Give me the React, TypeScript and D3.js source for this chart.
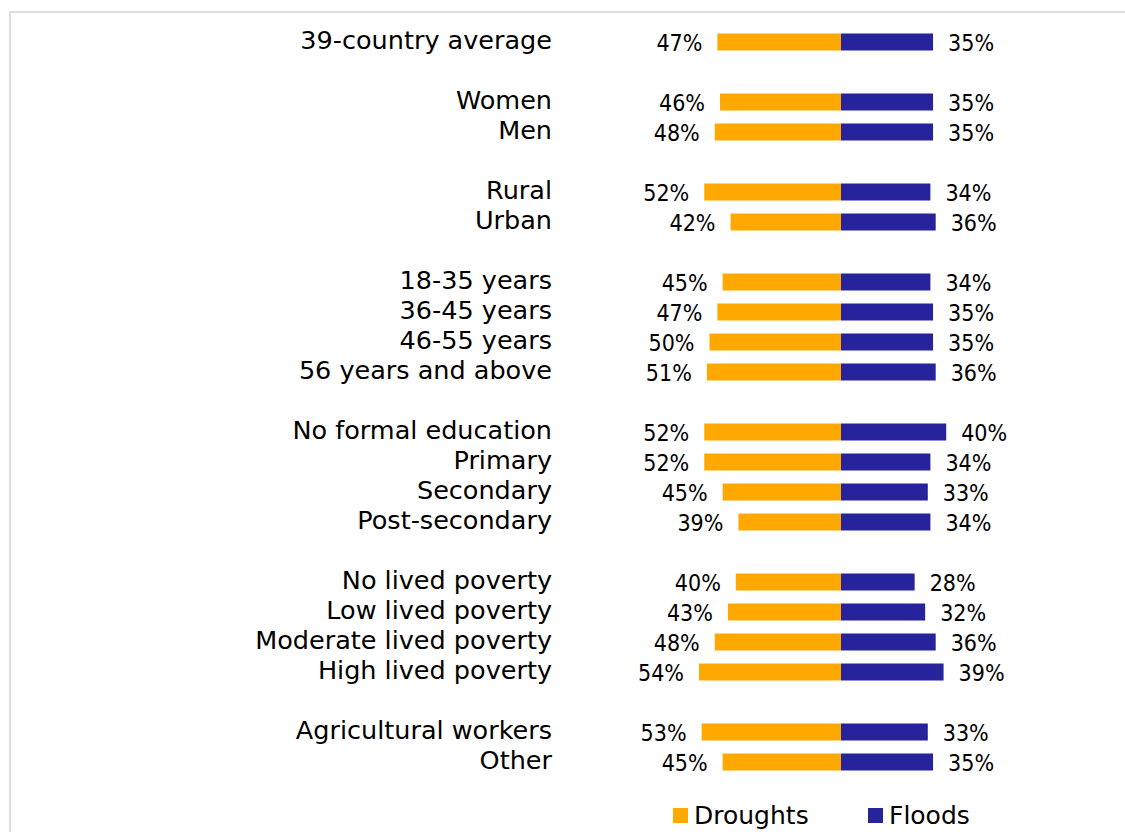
import * as d3 from 'd3'

const categories = [
  '39-country average',
  'Women', 'Men',
  'Rural', 'Urban',
  '18-35 years', '36-45 years', '46-55 years', '56 years and above',
  'No formal education', 'Primary', 'Secondary', 'Post-secondary',
  'No lived poverty', 'Low lived poverty', 'Moderate lived poverty', 'High lived poverty',
  'Agricultural workers', 'Other'
]
// which block each row belongs to (blocks are separated by an empty row)
const groups = [0, 1, 1, 2, 2, 3, 3, 3, 3, 4, 4, 4, 4, 5, 5, 5, 5, 6, 6]
const droughts = [47, 46, 48, 52, 42, 45, 47, 50, 51, 52, 52, 45, 39, 40, 43, 48, 54, 53, 45]
const floods = [35, 35, 35, 34, 36, 34, 35, 35, 36, 40, 34, 33, 34, 28, 32, 36, 39, 33, 35]
const seriesNames = ['Droughts', 'Floods']
const colors = ['#FFA800', '#26239D']

const W = 1125
const H = 832
const center = 841
const barH = 17

export default function App() {
  const x = d3.scaleLinear().domain([0, 100]).range([0, 263])
  const slots = categories.map((_, i) => i + groups[i])
  const y = d3.scaleLinear().domain([0, d3.max(slots)]).range([42, 762])

  const labelFont = "'DejaVu Sans', Verdana, sans-serif"
  const pctFont = "'DejaVu Sans Condensed', 'DejaVu Sans', sans-serif"

  return (
    <svg
      width={W}
      height={H}
      viewBox={`0 0 ${W} ${H}`}
      style={{ position: 'absolute', left: 0, top: 0, background: '#fff' }}
    >
      <path d={`M10,${H} V12 H${W}`} fill="none" stroke="#dedede" strokeWidth={2} />
      {categories.map((c, i) => {
        const cy = y(slots[i])
        const left = center - x(droughts[i])
        const right = center + x(floods[i])
        return (
          <g key={c}>
            <text
              x={552}
              y={cy - 2}
              textAnchor="end"
              dominantBaseline="central"
              fontFamily={labelFont}
              fontSize={25.5}
              fill="#000"
            >
              {c}
            </text>
            <rect x={left} y={cy - barH / 2} width={x(droughts[i])} height={barH} fill={colors[0]} />
            <rect x={center} y={cy - barH / 2} width={x(floods[i])} height={barH} fill={colors[1]} />
            <text
              x={left - 15}
              y={cy + 1}
              textAnchor="end"
              dominantBaseline="central"
              fontFamily={pctFont}
              fontStretch="condensed"
              fontSize={23}
              fill="#000"
            >
              {droughts[i]}%
            </text>
            <text
              x={right + 15}
              y={cy + 1}
              dominantBaseline="central"
              fontFamily={pctFont}
              fontStretch="condensed"
              fontSize={23}
              fill="#000"
            >
              {floods[i]}%
            </text>
          </g>
        )
      })}
      {seriesNames.map((s, i) => {
        const lx = [673, 868][i]
        return (
          <g key={s}>
            <rect x={lx} y={808} width={15} height={15} fill={colors[i]} />
            <text
              x={lx + 21}
              y={815}
              dominantBaseline="central"
              fontFamily={labelFont}
              fontSize={25}
              fill="#000"
            >
              {s}
            </text>
          </g>
        )
      })}
    </svg>
  )
}
